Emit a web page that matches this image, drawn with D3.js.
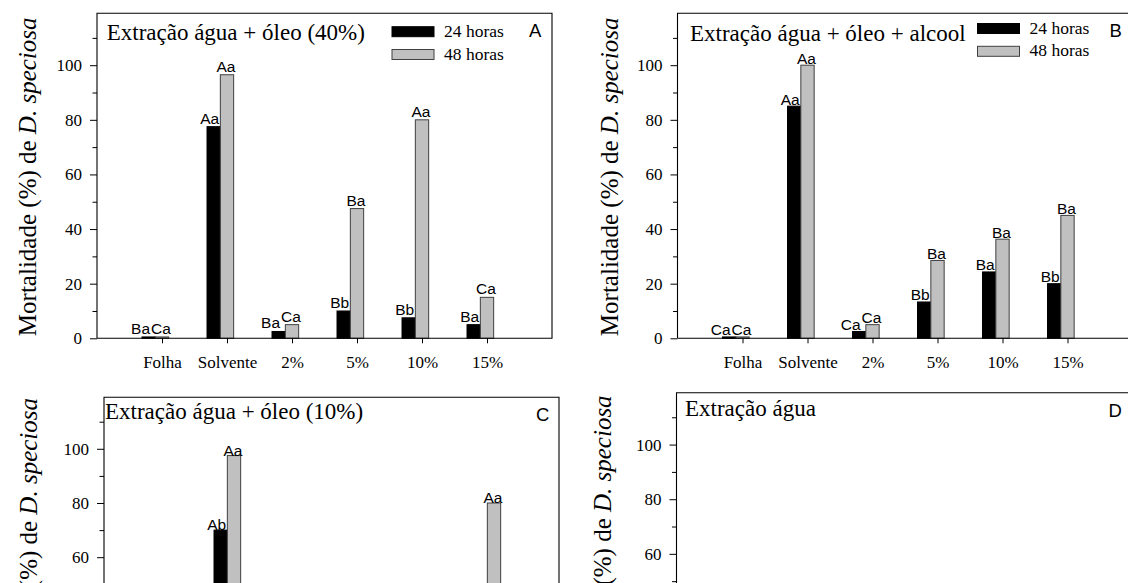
<!DOCTYPE html>
<html>
<head>
<meta charset="utf-8">
<script src="https://cdn.jsdelivr.net/npm/d3@7"></script>
<style>
  html, body { margin: 0; padding: 0; background: #fff; }
  svg { display: block; }
</style>
</head>
<body>
<svg id="fig" width="1128" height="583"></svg>
<script>
// Treatments on the x axis and the two exposure times
const categories = ["Folha", "Solvente", "2%", "5%", "10%", "15%"];
const seriesNames = ["24 horas", "48 horas"];
const yMajorTicks = [0, 20, 40, 60, 80, 100];
const yMinorTicks = [10, 30, 50, 70, 90, 110];

// A: água + óleo (40%)
const valuesA24 = [0.5, 77.5, 2.5, 10, 7.5, 5];
const valuesA48 = [0.5, 96.5, 5, 47.5, 80, 15];
const lettersA24 = ["Ba", "Aa", "Ba", "Bb", "Bb", "Ba"];
const lettersA48 = ["Ca", "Aa", "Ca", "Ba", "Aa", "Ca"];

// B: água + óleo + alcool
const valuesB24 = [0.5, 85, 2.5, 13.3, 24.3, 20];
const valuesB48 = [0.5, 100, 5, 28.5, 36.3, 45];
const lettersB24 = ["Ca", "Aa", "Ca", "Bb", "Ba", "Bb"];
const lettersB48 = ["Ca", "Aa", "Ca", "Ba", "Ba", "Ba"];

// C: água + óleo (10%) — only the bars reaching the upper part are known
const valuesC24 = [null, 70, null, null, null, null];
const valuesC48 = [null, 97.5, null, null, null, 80];
const lettersC24 = [null, "Ab", null, null, null, null];
const lettersC48 = [null, "Aa", null, null, null, "Aa"];

// D: água
const valuesD24 = [null, null, null, null, null, null];
const valuesD48 = [null, null, null, null, null, null];
const lettersD24 = [null, null, null, null, null, null];
const lettersD48 = [null, null, null, null, null, null];

const SERIF = "'Liberation Serif', 'Times New Roman', serif";
const SANS = "'Liberation Sans', Arial, sans-serif";
const GREY = "#c0c0c0";
const GREY_EDGE = "#404040";
const W = 1128, H = 583;

const panels = [
  { letter: "A", title: "Extração água + óleo (40%)", v24: valuesA24, v48: valuesA48, l24: lettersA24, l48: lettersA48,
    left: 97, top: 13.3, height: 325, titleDx: 9.7, titleDy: 27, legend: { dx: 295, dy: 13.4 }, labelGap: 3,
    yTitleDx: -61, yTitleDy: 163.5 },
  { letter: "B", title: "Extração água + óleo + alcool", v24: valuesB24, v48: valuesB48, l24: lettersB24, l48: lettersB48,
    left: 677.5, top: 13.3, height: 325, titleDx: 12.5, titleDy: 28, legend: { dx: 300, dy: 10.2 }, labelGap: 1.5,
    yTitleDx: -60, yTitleDy: 163.5 },
  { letter: "C", title: "Extração água + óleo (10%)", v24: valuesC24, v48: valuesC48, l24: lettersC24, l48: lettersC48,
    left: 104, top: 397.3, height: 322.5, titleDx: 1, titleDy: 22, legend: null, labelGap: 0,
    yTitleDx: -67, yTitleDy: 160 },
  { letter: "D", title: "Extração água", v24: valuesD24, v48: valuesD48, l24: lettersD24, l48: lettersD48,
    left: 676.5, top: 392.7, height: 325, titleDx: 8.5, titleDy: 23, legend: null, labelGap: 1,
    yTitleDx: -66, yTitleDy: 162 }
];

const svg = d3.select("#fig");
svg.append("rect").attr("width", W).attr("height", H).attr("fill", "#fff");

const slot = 65;               // spacing between treatments
const yMax = 119;

function drawPanel(p) {
  const g = svg.append("g");
  const right = p.left + slot * 7;
  const bottom = p.top + p.height;
  const x = d3.scaleLinear().domain([0, 7]).range([p.left, right]);
  const y = d3.scaleLinear().domain([0, yMax]).range([bottom, p.top]);
  const bw = slot * 0.205;

  // bars: 24 h left of the tick, 48 h centred on it
  const rows = categories.map((c, i) => ({ i: i + 1, v24: p.v24[i], v48: p.v48[i], l24: p.l24[i], l48: p.l48[i] }));

  g.selectAll("rect.b24").data(rows.filter(d => d.v24 != null)).join("rect")
    .attr("class", "b24")
    .attr("x", d => x(d.i) - 1.5 * bw).attr("width", bw)
    .attr("y", d => y(d.v24)).attr("height", d => y(0) - y(d.v24))
    .attr("fill", "#000").attr("stroke", "#000").attr("stroke-width", 1);

  g.selectAll("rect.b48").data(rows.filter(d => d.v48 != null)).join("rect")
    .attr("class", "b48")
    .attr("x", d => x(d.i) - 0.5 * bw).attr("width", bw)
    .attr("y", d => y(d.v48)).attr("height", d => y(0) - y(d.v48))
    .attr("fill", GREY).attr("stroke", GREY_EDGE).attr("stroke-width", 1);

  // significance letters above the bars
  const fs = 15.5;
  rows.forEach(d => {
    let t48box = null;
    if (d.l48 && d.v48 != null) {
      const t48 = g.append("text").text(d.l48)
        .attr("x", x(d.i) - 1).attr("y", y(d.v48) - p.labelGap)
        .attr("text-anchor", "middle").attr("font-family", SANS).attr("font-size", fs);
      const w = t48.node().getComputedTextLength();
      t48box = { l: x(d.i) - 1 - w / 2, top: y(d.v48) - p.labelGap - fs * 0.75, bot: y(d.v48) - p.labelGap };
    }
    if (d.l24 && d.v24 != null) {
      const t = g.append("text").text(d.l24)
        .attr("y", y(d.v24) - p.labelGap)
        .attr("text-anchor", "middle").attr("font-family", SANS).attr("font-size", fs);
      const w = t.node().getComputedTextLength();
      let cx = x(d.i) - bw - 4;
      const base = y(d.v24) - p.labelGap;
      // keep the 24 h letters clear of the 48 h letters next to them
      if (t48box && base > t48box.top && base - fs * 0.75 < t48box.bot && cx + w / 2 > t48box.l - 1) {
        cx = t48box.l - 1 - w / 2;
      }
      t.attr("x", cx);
    }
  });

  // y axis ticks (labels only where they fall inside the figure)
  const shownMajor = yMajorTicks.filter(v => y(v) < H - 8);
  const yAxis = d3.axisLeft(y).tickValues(shownMajor).tickSize(7).tickPadding(8);
  const ya = g.append("g").attr("transform", `translate(${p.left},0)`).call(yAxis);
  ya.select(".domain").remove();
  ya.selectAll("text").attr("font-family", SERIF).attr("font-size", 17).attr("fill", "#000");
  const yMinor = d3.axisLeft(y).tickValues(yMinorTicks.filter(v => y(v) < H)).tickSize(4.5).tickFormat("");
  const ym = g.append("g").attr("transform", `translate(${p.left},0)`).call(yMinor);
  ym.select(".domain").remove();

  // x axis
  if (bottom < H) {
    const xAxis = d3.axisBottom(x).tickValues(d3.range(1, 7)).tickFormat(i => categories[i - 1]).tickSize(5).tickPadding(13);
    const xa = g.append("g").attr("transform", `translate(0,${bottom})`).call(xAxis);
    xa.select(".domain").remove();
    xa.selectAll("text").attr("font-family", SERIF).attr("font-size", 17).attr("fill", "#000");
  }

  // frame: left, top, right and the baseline
  g.append("path")
    .attr("d", `M${p.left},${bottom}V${p.top}H${right}V${bottom}H${p.left}`)
    .attr("fill", "none").attr("stroke", "#000").attr("stroke-width", 1.1);

  // titles
  g.append("text").text(p.title)
    .attr("x", p.left + p.titleDx).attr("y", p.top + p.titleDy)
    .attr("font-family", SERIF).attr("font-size", 23);
  g.append("text").text(p.letter)
    .attr("x", p.left + 432).attr("y", p.top + 24)
    .attr("font-family", SANS).attr("font-size", 18.5);

  // y axis title
  const yt = g.append("text")
    .attr("transform", `translate(${p.left + p.yTitleDx},${p.top + p.yTitleDy}) rotate(-90)`)
    .attr("text-anchor", "middle").attr("font-family", SERIF).attr("font-size", 25);
  yt.append("tspan").text("Mortalidade (%) de ");
  yt.append("tspan").attr("font-style", "italic").text("D. speciosa");

  // legend
  if (p.legend) {
    const colors = [["#000", "#000"], [GREY, GREY_EDGE]];
    seriesNames.forEach((s, k) => {
      const ly = p.top + p.legend.dy + k * 22.8;
      g.append("rect").attr("x", p.left + p.legend.dx).attr("y", ly)
        .attr("width", 42).attr("height", 10)
        .attr("fill", colors[k][0]).attr("stroke", colors[k][1]).attr("stroke-width", 1);
      g.append("text").text(s)
        .attr("x", p.left + p.legend.dx + 52).attr("y", ly + 10)
        .attr("font-family", SERIF).attr("font-size", 17.5);
    });
  }
}

panels.forEach(drawPanel);
</script>
</body>
</html>
